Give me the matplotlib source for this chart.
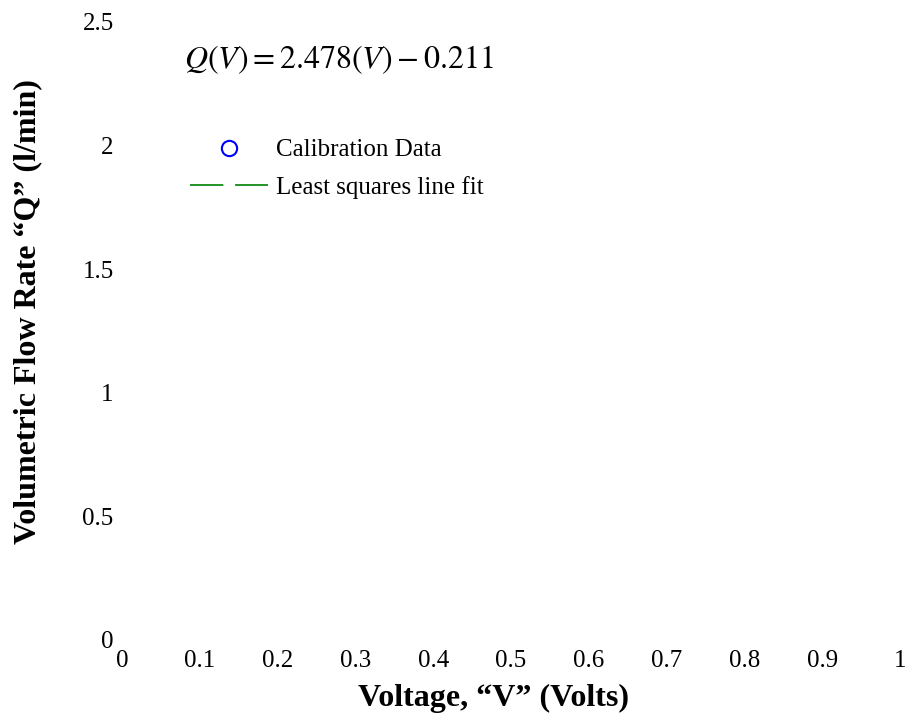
import matplotlib
matplotlib.use("Agg")
import matplotlib.pyplot as plt

# ------------------------------ Dados ----------------------------------------#
# Nenhum ponto aparece no gráfico original: as séries ficam vazias
tensao = []          # V (Volts)
vazao = []           # Q (l/min)
ajuste_v = []
ajuste_q = []

coef_a = 2.478
coef_b = 0.211

xticks = [0, 0.1, 0.2, 0.3, 0.4, 0.5, 0.6, 0.7, 0.8, 0.9, 1]
xticklabels = ["0", "0.1", "0.2", "0.3", "0.4", "0.5", "0.6", "0.7", "0.8", "0.9", "1"]
yticks = [0, 0.5, 1, 1.5, 2, 2.5]
yticklabels = ["0", "0.5", "1", "1.5", "2", "2.5"]
# -----------------------------------------------------------------------------#

plt.rcParams['font.family'] = ['Liberation Serif', 'DejaVu Serif']
plt.rcParams['mathtext.fontset'] = 'stix'
plt.rcParams['lines.scale_dashes'] = False

fig = plt.figure(figsize=(9.11, 7.25), dpi=100)
ax = fig.add_axes([122/911, 1-640/725, 778/911, 618/725])

ax.plot(tensao, vazao, 'o', mfc='none', mec='blue', ms=11, mew=1.5,
        label='Calibration Data')
ax.plot(ajuste_v, ajuste_q, color='green', lw=1.2, dashes=(24, 8.5),
        label='Least squares line fit')

ax.set_xlim(0, 1)
ax.set_ylim(0, 2.5)
ax.set_xticks(xticks)
ax.set_xticklabels(xticklabels)
ax.set_yticks(yticks)
ax.set_yticklabels(yticklabels)
ax.tick_params(axis='both', length=0, labelsize=18)
ax.tick_params(axis='x', pad=7)
ax.tick_params(axis='y', pad=6)
for s in ax.spines.values():
    s.set_visible(False)

fig.text(28/911, 1-312/725, 'Volumetric Flow Rate \u201cQ\u201d (l/min)',
         rotation=90, ha='center', va='center', fontsize=23, fontweight='bold')
fig.text(493/911, 1-698/725, 'Voltage, \u201cV\u201d (Volts)',
         ha='center', va='center', fontsize=23, fontweight='bold')

fig.text(339/911, 1-60/725,
         r'$Q(V) = %.3f(V) - %.3f$' % (coef_a, coef_b),
         ha='center', va='center', fontsize=23)

ax.legend(loc='upper left', bbox_to_anchor=(190/911, 1-139/725),
          bbox_transform=fig.transFigure, frameon=False, fontsize=18,
          borderpad=0, borderaxespad=0, handlelength=3.1, handletextpad=0.36,
          labelspacing=0.58)

fig.savefig('out.png', dpi=100)
